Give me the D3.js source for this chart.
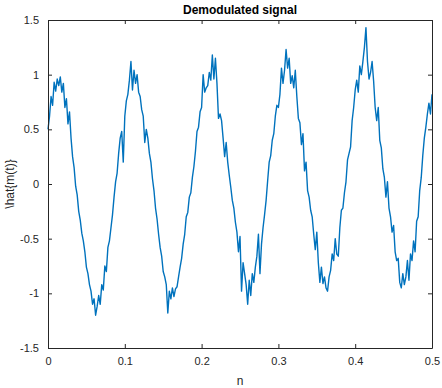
<!DOCTYPE html>
<html>
<head>
<meta charset="utf-8" />
<title>Demodulated signal</title>
<script src="https://d3js.org/d3.v7.min.js"></script>
<style>
  body { margin: 0; background: #fff; }
  text { font-family: "Liberation Sans", Arial, sans-serif; }
</style>
</head>
<body>
<svg id="chart" width="442" height="388"></svg>
<script>
// sample spacing of the demodulated signal (x axis "n")
var sampleStep = 0.002;

// demodulated signal values, one per sample
var signal = [
  0.50, 0.62, 0.80, 0.72, 0.93, 0.85, 0.96, 0.90, 0.98, 0.84,
  0.92, 0.70, 0.78, 0.55, 0.66, 0.42, 0.25, 0.15, -0.02, -0.10,
  -0.25, -0.33, -0.45, -0.52, -0.62, -0.76, -0.82, -0.92, -0.98, -1.10,
  -1.05, -1.20, -1.12, -1.02, -1.10, -0.92, -0.97, -0.75, -0.80, -0.58,
  -0.52, -0.40, -0.28, -0.12, 0.02, 0.10, 0.28, 0.42, 0.48, 0.20,
  0.62, 0.76, 0.82, 0.95, 1.12, 0.86, 1.04, 0.92, 1.00, 0.84,
  0.80, 0.68, 0.62, 0.38, 0.50, 0.42, 0.28, 0.20, 0.05, -0.06,
  -0.22, -0.32, -0.46, -0.58, -0.66, -0.80, -0.85, -0.92, -1.18, -0.98,
  -1.05, -0.95, -1.03, -0.96, -0.94, -0.85, -0.76, -0.68, -0.55, -0.46,
  -0.30, -0.26, -0.12, -0.08, 0.06, 0.16, 0.30, 0.48, 0.52, 0.66,
  0.70, 1.00, 0.84, 0.88, 0.90, 1.02, 0.95, 1.18, 0.96, 1.15,
  0.92, 0.60, 0.64, 0.58, 0.42, 0.25, 0.38, 0.20, 0.08, -0.03,
  -0.15, -0.22, -0.35, -0.44, -0.62, -0.48, -0.98, -0.72, -0.82, -0.92,
  -1.10, -0.88, -1.02, -0.82, -0.90, -0.76, -0.66, -0.46, -0.82, -0.55,
  -0.40, -0.28, -0.15, 0.03, 0.20, 0.26, 0.40, 0.46, 0.62, 0.72,
  0.70, 0.82, 1.06, 0.92, 1.04, 1.23, 1.06, 1.15, 0.92, 0.99,
  0.88, 1.04, 0.80, 0.60, 0.56, 0.36, 0.46, 0.12, 0.20, -0.06,
  -0.12, -0.24, -0.30, -0.46, -0.60, -0.44, -0.72, -0.90, -0.76, -0.91,
  -0.85, -0.95, -0.98, -0.85, -0.79, -0.64, -0.70, -0.50, -0.64, -0.66,
  -0.40, -0.24, -0.22, -0.08, 0.02, 0.22, 0.28, 0.34, 0.58, 0.70,
  0.86, 0.95, 0.84, 1.08, 1.00, 1.12, 1.25, 1.43, 1.12, 0.96,
  1.02, 1.12, 0.94, 0.70, 0.58, 0.70, 0.40, 0.33, 0.14, 0.06,
  -0.12, 0.02, -0.22, -0.30, -0.44, -0.38, -0.62, -0.70, -0.68, -0.90,
  -0.95, -0.82, -0.92, -0.85, -0.70, -0.88, -0.64, -0.70, -0.52, -0.62,
  -0.34, -0.30, -0.06, 0.06, 0.26, 0.42, 0.52, 0.64, 0.74, 0.64,
  0.82
];

var xTicks = [0, 0.1, 0.2, 0.3, 0.4, 0.5];
var yTicks = [-1.5, -1, -0.5, 0, 0.5, 1, 1.5];

var plotLeft = 48, plotRight = 432, plotTop = 20, plotBottom = 348;
var tickLen = 4;
var axisColor = "#262626";

var svg = d3.select("#chart");

var x = d3.scaleLinear().domain([0, 0.5]).range([plotLeft, plotRight]);
var y = d3.scaleLinear().domain([-1.5, 1.5]).range([plotBottom, plotTop]);

var fmt = function (d) { return String(d); };

// signal line
var line = d3.line()
    .x(function (d, i) { return x(i * sampleStep); })
    .y(function (d) { return y(d); });

svg.append("path")
    .datum(signal)
    .attr("fill", "none")
    .attr("stroke", "#0072BD")
    .attr("stroke-width", 1.4)
    .attr("stroke-linejoin", "round")
    .attr("d", line);

// axes (inward ticks on all four sides like a boxed plot)
function styleAxis(g) {
    g.selectAll("path.domain").attr("stroke", axisColor);
    g.selectAll(".tick line").attr("stroke", axisColor);
    g.selectAll(".tick text")
        .attr("font-family", "'Liberation Sans', Arial, sans-serif")
        .attr("font-size", 11)
        .attr("fill", axisColor);
}

svg.append("g")
    .attr("transform", "translate(0," + plotBottom + ")")
    .call(d3.axisBottom(x).tickValues(xTicks).tickFormat(fmt)
        .tickSizeInner(-tickLen).tickSizeOuter(0).tickPadding(9))
    .call(styleAxis);

svg.append("g")
    .attr("transform", "translate(0," + plotTop + ")")
    .call(d3.axisTop(x).tickValues(xTicks).tickFormat("")
        .tickSizeInner(-tickLen).tickSizeOuter(0))
    .call(styleAxis);

svg.append("g")
    .attr("transform", "translate(" + plotLeft + ",0)")
    .call(d3.axisLeft(y).tickValues(yTicks).tickFormat(fmt)
        .tickSizeInner(-tickLen).tickSizeOuter(0).tickPadding(9))
    .call(styleAxis);

svg.append("g")
    .attr("transform", "translate(" + plotRight + ",0)")
    .call(d3.axisRight(y).tickValues(yTicks).tickFormat("")
        .tickSizeInner(-tickLen).tickSizeOuter(0))
    .call(styleAxis);

// title and labels
svg.append("text")
    .attr("x", (plotLeft + plotRight) / 2)
    .attr("y", 14)
    .attr("text-anchor", "middle")
    .attr("font-size", 12)
    .attr("font-weight", "bold")
    .attr("fill", "#000")
    .text("Demodulated signal");

svg.append("text")
    .attr("x", (plotLeft + plotRight) / 2)
    .attr("y", 385)
    .attr("text-anchor", "middle")
    .attr("font-size", 12)
    .attr("fill", axisColor)
    .text("n");

svg.append("text")
    .attr("transform", "translate(14," + ((plotTop + plotBottom) / 2) + ") rotate(-90)")
    .attr("text-anchor", "middle")
    .attr("font-size", 12)
    .attr("fill", axisColor)
    .text("\\hat{m(t)}");
</script>
</body>
</html>
